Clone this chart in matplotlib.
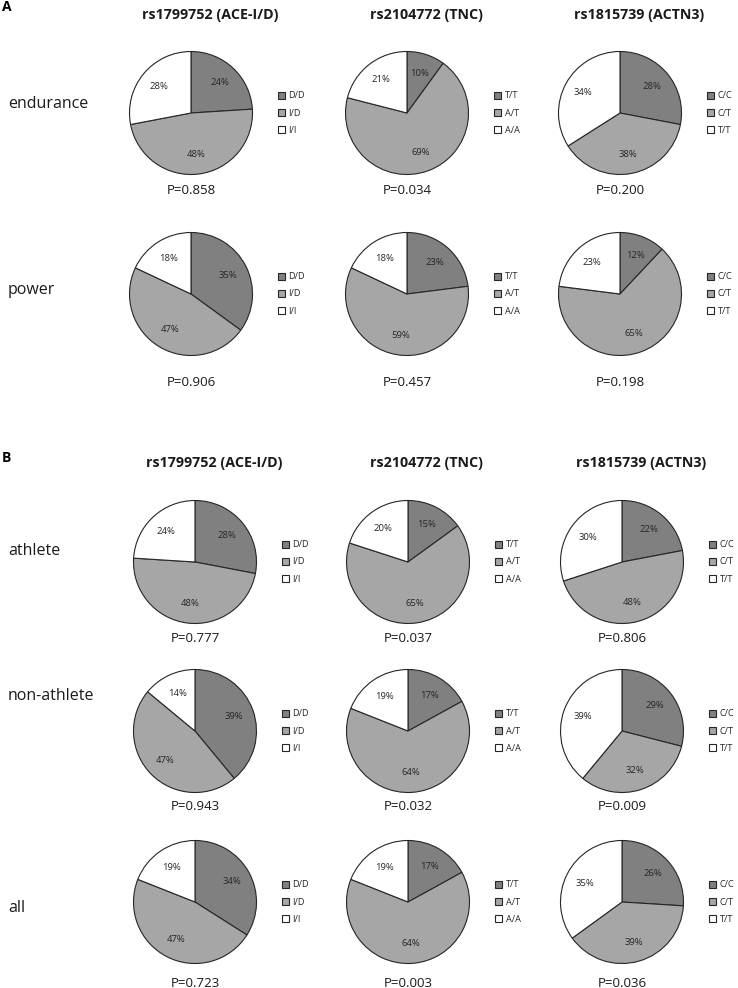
import matplotlib
matplotlib.use("Agg")
import matplotlib.pyplot as plt

######## Daten #################
gene = ['rs1799752 (ACE-I/D)', 'rs2104772 (TNC)', 'rs1815739 (ACTN3)']
genotypen = [['D/D', 'I/D', 'I/I'], ['T/T', 'A/T', 'A/A'], ['C/C', 'C/T', 'T/T']]

gruppen_a = ['endurance', 'power']
gruppen_b = ['athlete', 'non-athlete', 'all']

# Anteile in % je Gruppe, je Gen (Reihenfolge wie genotypen)
endurance = [[24, 48, 28], [10, 69, 21], [28, 38, 34]]
power = [[35, 47, 18], [23, 59, 18], [12, 65, 23]]
athlete = [[28, 48, 24], [15, 65, 20], [22, 48, 30]]
non_athlete = [[39, 47, 14], [17, 64, 19], [29, 32, 39]]
alle = [[34, 47, 19], [17, 64, 19], [26, 39, 35]]

p_endurance = [0.858, 0.034, 0.200]
p_power = [0.906, 0.457, 0.198]
p_athlete = [0.777, 0.037, 0.806]
p_non_athlete = [0.943, 0.032, 0.009]
p_alle = [0.723, 0.003, 0.036]

farben = ['#808080', '#a6a6a6', '#ffffff']

######## Layout (Pixel) #################
W, H = 738, 988
plt.rcParams['font.family'] = ['Open Sans', 'DejaVu Sans']
fig = plt.figure(figsize=(W / 100, H / 100), dpi=100)
fig.patch.set_facecolor('white')

R = 61.5
spalten_a = [191, 407, 620]
spalten_b = [195, 408, 622]


def fx(x):
    return x / W


def fy(y):
    return 1 - y / H


def torte(cx, cy, werte, labels, p, py):
    pad = 1.04
    ax = fig.add_axes([fx(cx - R * pad), fy(cy + R * pad), 2 * R * pad / W, 2 * R * pad / H])
    wedges, _, _ = ax.pie(werte, colors=farben, startangle=90, counterclock=False,
                          autopct=lambda v: '%.0f%%' % v, pctdistance=0.68,
                          wedgeprops=dict(edgecolor='#262626', linewidth=0.8),
                          textprops=dict(fontsize=6.8, color='#262626'))
    ax.set_xlim(-pad, pad)
    ax.set_ylim(-pad, pad)
    ax.set_aspect('equal')
    fig.legend(wedges, labels, loc='center left', bbox_to_anchor=(fx(cx + 87), fy(cy)),
               frameon=False, fontsize=6.6, handlelength=0.8, handleheight=0.8,
               handletextpad=0.35, labelspacing=0.9, borderpad=0, borderaxespad=0,
               labelcolor='#262626')
    fig.text(fx(cx), fy(py), 'P=%.3f' % p, ha='center', va='center', fontsize=9.5, color='#1a1a1a')


def block(spalten, gruppen, daten, pwerte, zeilen_y, label_y, p_y, titel_y):
    for j in range(3):
        fig.text(fx(spalten[j] + 19), fy(titel_y), gene[j], ha='center', va='center',
                 fontsize=10.3, fontweight='bold', color='#1a1a1a')
    for i in range(len(gruppen)):
        fig.text(fx(8), fy(label_y[i]), gruppen[i], ha='left', va='center', fontsize=11.5, color='#1a1a1a')
        for j in range(3):
            torte(spalten[j], zeilen_y[i], daten[i][j], genotypen[j], pwerte[i][j], p_y[i])


fig.text(fx(2), fy(7), 'A', ha='left', va='center', fontsize=10, fontweight='bold')
block(spalten_a, gruppen_a, [endurance, power], [p_endurance, p_power],
      [113, 294], [104, 290], [190, 382], 15)

fig.text(fx(2), fy(458), 'B', ha='left', va='center', fontsize=10, fontweight='bold')
block(spalten_b, gruppen_b, [athlete, non_athlete, alle], [p_athlete, p_non_athlete, p_alle],
      [562, 731, 902], [551, 696, 908], [638, 806, 983], 463)

plt.savefig('out.png', dpi=100)
